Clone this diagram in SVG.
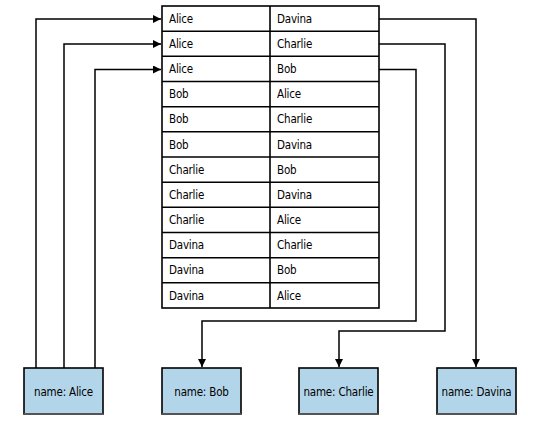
<svg xmlns="http://www.w3.org/2000/svg" width="539" height="422" viewBox="0 0 539 422">
<style>
text{font-family:"DejaVu Sans Condensed","DejaVu Sans",sans-serif;font-size:11.5px;fill:#000;font-stretch:condensed;letter-spacing:-0.2px}
.cell{fill:#fff;stroke:#000;stroke-width:1.6}
.box{fill:#b3d5ea;stroke:#000;stroke-width:1.6}
.line{fill:none;stroke:#000;stroke-width:1.5}
.lbl{text-anchor:middle}
</style>
<defs>
<marker id="ah" viewBox="0 0 10 10" refX="10" refY="5" markerWidth="8" markerHeight="8" markerUnits="userSpaceOnUse" orient="auto">
<path d="M0,0 L10,5 L0,10 z" fill="#000"/>
</marker>
</defs>
<g id="table">
<rect class="cell" x="162" y="6" width="217" height="302"/>
<line class="cell" x1="270" y1="6" x2="270" y2="308"/>
<g class="cell">
<line x1="162" y1="31.2" x2="379" y2="31.2"/>
<line x1="162" y1="56.3" x2="379" y2="56.3"/>
<line x1="162" y1="81.5" x2="379" y2="81.5"/>
<line x1="162" y1="106.7" x2="379" y2="106.7"/>
<line x1="162" y1="131.8" x2="379" y2="131.8"/>
<line x1="162" y1="157" x2="379" y2="157"/>
<line x1="162" y1="182.2" x2="379" y2="182.2"/>
<line x1="162" y1="207.3" x2="379" y2="207.3"/>
<line x1="162" y1="232.5" x2="379" y2="232.5"/>
<line x1="162" y1="257.7" x2="379" y2="257.7"/>
<line x1="162" y1="282.8" x2="379" y2="282.8"/>
</g>
<g>
<text x="169" y="23">Alice</text><text x="277" y="23">Davina</text>
<text x="169" y="48">Alice</text><text x="277" y="48">Charlie</text>
<text x="169" y="73">Alice</text><text x="277" y="73">Bob</text>
<text x="169" y="98">Bob</text><text x="277" y="98">Alice</text>
<text x="169" y="123">Bob</text><text x="277" y="123">Charlie</text>
<text x="169" y="148.5">Bob</text><text x="277" y="148.5">Davina</text>
<text x="169" y="173.5">Charlie</text><text x="277" y="173.5">Bob</text>
<text x="169" y="198.5">Charlie</text><text x="277" y="198.5">Davina</text>
<text x="169" y="224">Charlie</text><text x="277" y="224">Alice</text>
<text x="169" y="249">Davina</text><text x="277" y="249">Charlie</text>
<text x="169" y="274">Davina</text><text x="277" y="274">Bob</text>
<text x="169" y="299.5">Davina</text><text x="277" y="299.5">Alice</text>
</g>
</g>
<g id="connectors">
<path class="line" d="M36,368 V19 H161" marker-end="url(#ah)"/>
<path class="line" d="M64,368 V44 H161" marker-end="url(#ah)"/>
<path class="line" d="M95,368 V69.5 H161" marker-end="url(#ah)"/>
<path class="line" d="M379,19 H476 V367" marker-end="url(#ah)"/>
<path class="line" d="M379,44 H445 V331 H339 V367" marker-end="url(#ah)"/>
<path class="line" d="M379,69.5 H416 V321 H202 V367" marker-end="url(#ah)"/>
</g>
<g id="alice">
<rect class="box" x="24" y="368" width="79" height="46"/>
<line x1="24" y1="414" x2="103" y2="414" stroke="#555" stroke-width="2"/>
<text class="lbl" x="63.5" y="395.5">name: Alice</text>
</g>
<g id="bob">
<rect class="box" x="162" y="368" width="79" height="46"/>
<line x1="162" y1="414" x2="241" y2="414" stroke="#555" stroke-width="2"/>
<text class="lbl" x="201.5" y="395.5">name: Bob</text>
</g>
<g id="charlie">
<rect class="box" x="299" y="368" width="79" height="46"/>
<line x1="299" y1="414" x2="378" y2="414" stroke="#555" stroke-width="2"/>
<text class="lbl" x="338.5" y="395.5">name: Charlie</text>
</g>
<g id="davina">
<rect class="box" x="437" y="368" width="79" height="46"/>
<line x1="437" y1="414" x2="516" y2="414" stroke="#555" stroke-width="2"/>
<text class="lbl" x="476.5" y="395.5">name: Davina</text>
</g>
</svg>
